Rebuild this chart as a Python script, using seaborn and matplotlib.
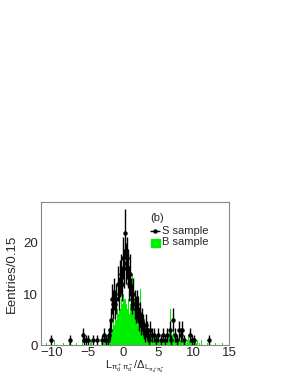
import numpy as np
import pandas as pd
import matplotlib
matplotlib.use('Agg')
import matplotlib.pyplot as plt
import seaborn as sns
from matplotlib.ticker import MultipleLocator

sns.set_style('white')
plt.rcParams['font.family'] = ['Liberation Sans', 'DejaVu Sans']
plt.rcParams['mathtext.fontset'] = 'custom'
plt.rcParams['mathtext.rm'] = 'Liberation Sans'
plt.rcParams['mathtext.it'] = 'Liberation Sans'

# S sample: central contiguous bins (width 0.15) starting at -2.1
s_core_start = -2.1
s_core_counts = [1, 2, 3, 5, 9, 8, 10,
                 8, 9, 12, 10, 13, 14, 12,
                 17, 15, 22, 16, 17, 15, 12,
                 14, 10, 9, 10, 8, 7, 8,
                 7, 5, 6, 4, 5, 4, 3,
                 2, 4, 3, 2, 1, 3, 2]
# S sample: sparse tail bins
s_tail_x = [-10.2, -7.5, -5.7, -5.55, -5.25, -4.95, -4.2, -3.6, -3.0, -2.7, -2.4,
            4.35, 4.65, 4.95, 5.4, 5.7, 6.0, 6.3, 6.6, 6.75, 7.05, 7.35, 7.65,
            7.95, 8.25, 8.4, 8.7, 9.45, 9.75, 10.05, 12.15]
s_tail_n = [1, 1, 2, 1, 1, 1, 1, 1, 1, 2, 1,
            2, 1, 2, 1, 2, 1, 2, 3, 1, 5, 2, 1,
            3, 2, 3, 1, 2, 1, 1, 1]

# B sample: contiguous bins starting at -3.0
b_core_start = -3.0
b_core_counts = [0.5, 1, 0.5, 1, 1.5, 1, 2,
                 2, 3, 4, 3, 5, 4, 6,
                 5, 7, 6, 8, 7, 9, 8,
                 10, 9, 8, 7, 9, 6, 8,
                 10, 14, 7, 9, 6, 7, 5,
                 5, 6, 11, 4, 5, 3, 4,
                 3, 4, 2, 3, 2, 3, 2,
                 2, 1, 2, 1.5, 2, 1, 1,
                 1.5, 1, 2, 1, 2, 1, 3,
                 2, 3, 7, 3, 2, 4, 2,
                 3, 2, 1, 2, 1, 1.5, 1,
                 1, 0.5, 1, 0.5, 1, 2, 1,
                 2, 1, 1, 0.5, 1, 0.5, 1]
b_tail_x = [-10.8, -9.6, -8.4, -7.5, -6.6, -5.7, -4.5, -3.6, 10.8, 11.1, 12.0, 13.05, 14.1]
b_tail_n = [0.5, 1, 0.5, 1, 0.5, 1, 1, 1, 0.5, 1, 0.5, 0.5, 0.5]

w = 0.15
s_x = np.concatenate([s_core_start + w * np.arange(len(s_core_counts)), s_tail_x])
s_n = np.concatenate([s_core_counts, s_tail_n]).astype(float)
b_df = pd.DataFrame({
    'x': np.concatenate([b_core_start + w * np.arange(len(b_core_counts)), b_tail_x]),
    'n': np.concatenate([b_core_counts, b_tail_n]).astype(float),
})

edges = [float(e) for e in np.arange(-11.55 - w / 2, 15.0 + w, w)]

fig = plt.figure(figsize=(2.91, 3.76), dpi=100)
ax = fig.add_axes([0.14, 0.082, 0.647, 0.381])

sns.histplot(data=b_df, x='x', weights='n', bins=edges, color='#00ee00', alpha=1.0,
             element='step', fill=True, linewidth=0, ax=ax)
ax.errorbar(s_x, s_n, yerr=np.sqrt(s_n), xerr=w / 2, fmt='o', color='black',
            ms=2.2, elinewidth=1.0, capsize=0)

ax.set_xlim(-11.6, 15)
ax.set_ylim(0, 28)
ax.xaxis.set_major_locator(MultipleLocator(5))
ax.xaxis.set_minor_locator(MultipleLocator(1))
ax.yaxis.set_major_locator(MultipleLocator(10))
ax.yaxis.set_minor_locator(MultipleLocator(2))
ax.tick_params(which='both', direction='in', top=False, right=False,
               labelsize=9.5, color='#555555', pad=2)
ax.tick_params(axis='x', pad=1)
ax.tick_params(which='major', length=5, width=0.6)
ax.tick_params(which='minor', length=2.5, width=0.6)
for sp in ax.spines.values():
    sp.set_color('#888888')
    sp.set_linewidth(0.8)

ax.set_ylabel('Eentries/0.15', fontsize=9.5, labelpad=4)
ax.set_xlabel(r'$\mathrm{L}_{\pi_d^+\pi_d^-}/\Delta_{\mathrm{L}_{\pi_d^+\pi_d^-}}$',
              fontsize=8, labelpad=0)
ax.xaxis.set_label_coords(0.50, -0.095)

ax.text(0.58, 0.89, '(b)', transform=ax.transAxes, fontsize=8, va='center')
ax.errorbar([0.607], [0.80], xerr=0.026, fmt='o', ms=2.2, color='black', elinewidth=1,
            transform=ax.transAxes)
ax.text(0.645, 0.80, 'S sample', transform=ax.transAxes, fontsize=8, va='center')
ax.add_patch(plt.Rectangle((0.584, 0.682), 0.05, 0.062, transform=ax.transAxes,
                           color='#00ee00'))
ax.text(0.645, 0.717, 'B sample', transform=ax.transAxes, fontsize=8, va='center')

fig.savefig('out.png', dpi=100)
